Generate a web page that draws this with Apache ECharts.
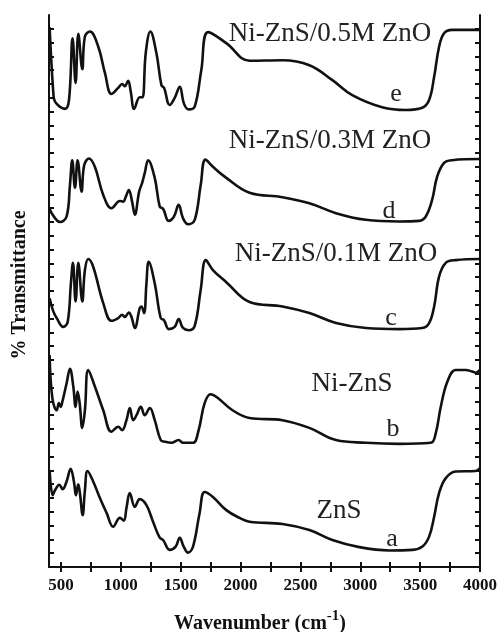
<!DOCTYPE html>
<html>
<head>
<meta charset="utf-8">
<script src="https://cdn.jsdelivr.net/npm/echarts@6/dist/echarts.min.js"></script>
<style>
  html, body { margin: 0; padding: 0; background: #fff; }
  #chart { width: 500px; height: 632px; }
</style>
</head>
<body>
<div id="chart"></div>
<script>
// FTIR spectra, stacked with vertical offsets: [wavenumber (cm-1), % transmittance (offset)]
const seriesNames = ['ZnS', 'Ni-ZnS', 'Ni-ZnS/0.1M ZnO', 'Ni-ZnS/0.3M ZnO', 'Ni-ZnS/0.5M ZnO'];
const curveLetters = ['a', 'b', 'c', 'd', 'e'];

const spectrumA = [
  [405, 17.6], [431, 13.0], [450, 13.9], [486, 14.9], [514, 14.1], [547, 15.5], [581, 17.8],
  [608, 15.5], [625, 13.0], [644, 15.0], [658, 13.4], [681, 9.4], [700, 13.9], [722, 17.4],
  [769, 15.5], [825, 12.5], [881, 9.8], [936, 7.3], [992, 8.9], [1025, 8.4], [1047, 10.7],
  [1075, 13.4], [1117, 10.9], [1158, 12.3], [1214, 11.2], [1269, 8.2], [1325, 5.3], [1353, 4.9],
  [1408, 3.1], [1458, 3.7], [1492, 5.3], [1525, 3.7], [1561, 2.6], [1603, 3.7], [1658, 9.8],
  [1700, 13.6], [1769, 12.7], [1881, 10.3], [1992, 8.9], [2075, 8.2], [2350, 7.8], [2575, 6.7],
  [2767, 4.9], [2992, 3.6], [3242, 3.0], [3436, 3.1], [3519, 3.7], [3575, 5.5], [3617, 9.1],
  [3658, 13.4], [3714, 16.1], [3797, 17.3], [3964, 17.4], [4000, 17.9]
];

const spectrumB = [
  [405, 38.4], [428, 30.6], [464, 28.4], [483, 29.7], [497, 29.0], [511, 29.9], [547, 33.3],
  [575, 35.9], [603, 32.7], [622, 29.0], [639, 31.8], [656, 29.7], [678, 25.2], [700, 28.4],
  [728, 35.7], [783, 32.7], [853, 28.4], [922, 24.5], [978, 25.4], [1011, 24.8], [1047, 26.6],
  [1075, 28.8], [1103, 26.6], [1131, 27.5], [1167, 29.0], [1200, 27.5], [1242, 28.8],
  [1283, 26.6], [1333, 23.0], [1367, 22.7], [1422, 22.5], [1483, 23.0], [1519, 22.5],
  [1603, 22.5], [1650, 24.8], [1700, 29.7], [1750, 31.3], [1800, 30.8], [1933, 28.4],
  [2075, 27.0], [2350, 26.6], [2575, 25.2], [2797, 23.0], [3047, 22.5], [3325, 22.3],
  [3589, 22.5], [3631, 24.3], [3672, 29.0], [3728, 33.6], [3797, 35.7], [3881, 35.7],
  [3936, 35.4], [3964, 35.2], [4000, 35.7]
];

const spectrumC = [
  [405, 48.7], [436, 46.3], [464, 45.1], [519, 43.5], [556, 44.4], [583, 51.4], [600, 55.1],
  [622, 48.1], [645, 55.1], [678, 48.1], [700, 53.8], [728, 55.8], [769, 54.4], [853, 47.8],
  [922, 44.6], [978, 45.1], [1011, 45.7], [1033, 45.3], [1067, 46.1], [1089, 45.3], [1117, 43.3],
  [1158, 46.9], [1172, 47.2], [1194, 46.0], [1214, 51.4], [1233, 55.3], [1283, 51.4],
  [1333, 45.1], [1361, 44.7], [1400, 43.1], [1450, 43.5], [1483, 44.9], [1519, 43.3],
  [1567, 42.9], [1617, 43.7], [1667, 50.2], [1710, 55.6], [1769, 53.8], [1881, 51.6],
  [2075, 48.0], [2350, 47.2], [2575, 46.0], [2797, 44.2], [3047, 43.3], [3325, 43.1],
  [3517, 43.3], [3575, 44.2], [3617, 47.2], [3658, 52.6], [3714, 55.1], [3797, 55.6], [4000, 55.8]
];

const spectrumD = [
  [405, 65.2], [422, 64.1], [492, 62.5], [547, 63.5], [575, 69.2], [594, 73.7], [617, 68.7],
  [639, 73.7], [672, 68.0], [694, 72.8], [733, 74.0], [783, 72.5], [853, 67.4], [922, 65.0],
  [992, 66.3], [1019, 66.2], [1042, 67.1], [1067, 68.3], [1094, 66.2], [1117, 63.8],
  [1153, 68.0], [1178, 69.6], [1200, 71.4], [1228, 73.7], [1283, 70.5], [1325, 65.3],
  [1353, 64.9], [1400, 62.7], [1444, 63.5], [1483, 65.6], [1519, 63.2], [1561, 62.1],
  [1617, 62.9], [1667, 69.2], [1707, 73.8], [1769, 72.5], [1881, 70.5], [2075, 67.8],
  [2350, 67.0], [2575, 65.9], [2797, 64.1], [3047, 62.9], [3325, 62.6], [3492, 62.7],
  [3547, 63.5], [3600, 66.5], [3642, 70.7], [3700, 73.2], [3767, 73.7], [4000, 73.9]
];

const spectrumE = [
  [405, 97.8], [436, 85.9], [450, 84.3], [533, 83.0], [567, 84.6], [597, 95.8], [622, 87.7],
  [645, 96.6], [678, 90.2], [700, 96.1], [742, 97.0], [811, 94.3], [867, 89.5], [922, 85.7],
  [978, 86.8], [1011, 87.5], [1033, 87.1], [1061, 88.1], [1083, 86.1], [1111, 83.0],
  [1158, 85.1], [1181, 85.1], [1208, 93.1], [1247, 97.0], [1297, 93.1], [1339, 87.3],
  [1361, 86.8], [1408, 83.7], [1450, 85.0], [1492, 87.0], [1528, 83.9], [1567, 82.9],
  [1617, 83.4], [1672, 90.0], [1730, 96.9], [1881, 94.9], [2075, 91.7], [2350, 91.8],
  [2575, 90.9], [2767, 88.2], [2933, 85.5], [3183, 83.3], [3381, 82.8], [3517, 83.2],
  [3575, 84.6], [3617, 88.8], [3658, 94.2], [3700, 96.7], [3767, 97.3], [4000, 97.3]
];

const spectra = [spectrumA, spectrumB, spectrumC, spectrumD, spectrumE];

// Axis ticks: labelled every 500 cm-1, minor marks every 250 cm-1
const xTickValues = [500, 750, 1000, 1250, 1500, 1750, 2000, 2250, 2500, 2750, 3000, 3250, 3500, 3750, 4000];
const xTickLabels = [500, 1000, 1500, 2000, 2500, 3000, 3500, 4000];
const yTickValues = [];
for (let v = 2.5; v < 100; v += 2.5) yTickValues.push(v);

const SERIF = "'Liberation Serif', 'DejaVu Serif', serif";
const INK = '#111';

const frameAxis = {
  type: 'value',
  axisLine: { show: true, lineStyle: { color: INK, width: 2 } },
  splitLine: { show: false },
  axisLabel: { show: false }
};

const chart = echarts.init(document.getElementById('chart'), null, { renderer: 'canvas' });

chart.setOption({
  animation: false,
  backgroundColor: '#fff',
  grid: { left: 49, right: 19, top: 15, bottom: 65 },
  xAxis: [
    Object.assign({}, frameAxis, {
      position: 'bottom', min: 400, max: 4000,
      axisTick: { show: true, inside: true, length: 5, customValues: xTickValues, lineStyle: { color: INK, width: 2 } },
      axisLabel: {
        show: true, customValues: xTickLabels, margin: 10,
        formatter: (v) => String(v),
        fontFamily: SERIF, fontWeight: 'bold', fontSize: 17, color: INK
      }
    }),
    Object.assign({}, frameAxis, {
      position: 'top', min: 400, max: 4000,
      axisTick: { show: true, inside: true, length: 5, customValues: xTickValues, lineStyle: { color: INK, width: 2 } }
    })
  ],
  yAxis: [
    Object.assign({}, frameAxis, {
      position: 'left', min: 0, max: 100,
      axisTick: { show: true, inside: true, length: 5, customValues: yTickValues, lineStyle: { color: INK, width: 2 } }
    }),
    Object.assign({}, frameAxis, {
      position: 'right', min: 0, max: 100,
      axisTick: { show: true, inside: true, length: 5, customValues: yTickValues, lineStyle: { color: INK, width: 2 } }
    })
  ],
  series: spectra.map((data, i) => ({
    name: seriesNames[i],
    type: 'line',
    xAxisIndex: 0,
    yAxisIndex: 0,
    data: data,
    showSymbol: false,
    symbol: 'none',
    smooth: 0.4,
    lineStyle: { color: INK, width: 2.6 },
    emphasis: { disabled: true }
  })),
  graphic: [
    // sample names
    { type: 'text', x: 330, y: 34, style: { text: seriesNames[4], font: '27px ' + SERIF, fill: '#222', align: 'center', verticalAlign: 'middle' } },
    { type: 'text', x: 330, y: 141, style: { text: seriesNames[3], font: '27px ' + SERIF, fill: '#222', align: 'center', verticalAlign: 'middle' } },
    { type: 'text', x: 336, y: 254, style: { text: seriesNames[2], font: '27px ' + SERIF, fill: '#222', align: 'center', verticalAlign: 'middle' } },
    { type: 'text', x: 352, y: 384, style: { text: seriesNames[1], font: '27px ' + SERIF, fill: '#222', align: 'center', verticalAlign: 'middle' } },
    { type: 'text', x: 339, y: 511, style: { text: seriesNames[0], font: '27px ' + SERIF, fill: '#222', align: 'center', verticalAlign: 'middle' } },
    // curve letters
    { type: 'text', x: 396, y: 94, style: { text: curveLetters[4], font: '26px ' + SERIF, fill: '#222', align: 'center', verticalAlign: 'middle' } },
    { type: 'text', x: 389, y: 211, style: { text: curveLetters[3], font: '26px ' + SERIF, fill: '#222', align: 'center', verticalAlign: 'middle' } },
    { type: 'text', x: 391, y: 318, style: { text: curveLetters[2], font: '26px ' + SERIF, fill: '#222', align: 'center', verticalAlign: 'middle' } },
    { type: 'text', x: 393, y: 429, style: { text: curveLetters[1], font: '26px ' + SERIF, fill: '#222', align: 'center', verticalAlign: 'middle' } },
    { type: 'text', x: 392, y: 539, style: { text: curveLetters[0], font: '26px ' + SERIF, fill: '#222', align: 'center', verticalAlign: 'middle' } },
    // axis titles
    {
      type: 'text', x: 260, y: 624,
      style: {
        text: 'Wavenumber (cm{sup|-1})',
        font: 'bold 20px ' + SERIF, fill: INK, align: 'center', verticalAlign: 'middle',
        rich: { sup: { fontFamily: SERIF, fontWeight: 'bold', fontSize: 15, verticalAlign: 'top', padding: [0, 0, 16, 0] } }
      }
    },
    {
      type: 'text', x: 20, y: 285, rotation: Math.PI / 2,
      style: { text: '% Transmittance', font: 'bold 20px ' + SERIF, fill: INK, align: 'center', verticalAlign: 'middle' }
    }
  ]
});
</script>
</body>
</html>
